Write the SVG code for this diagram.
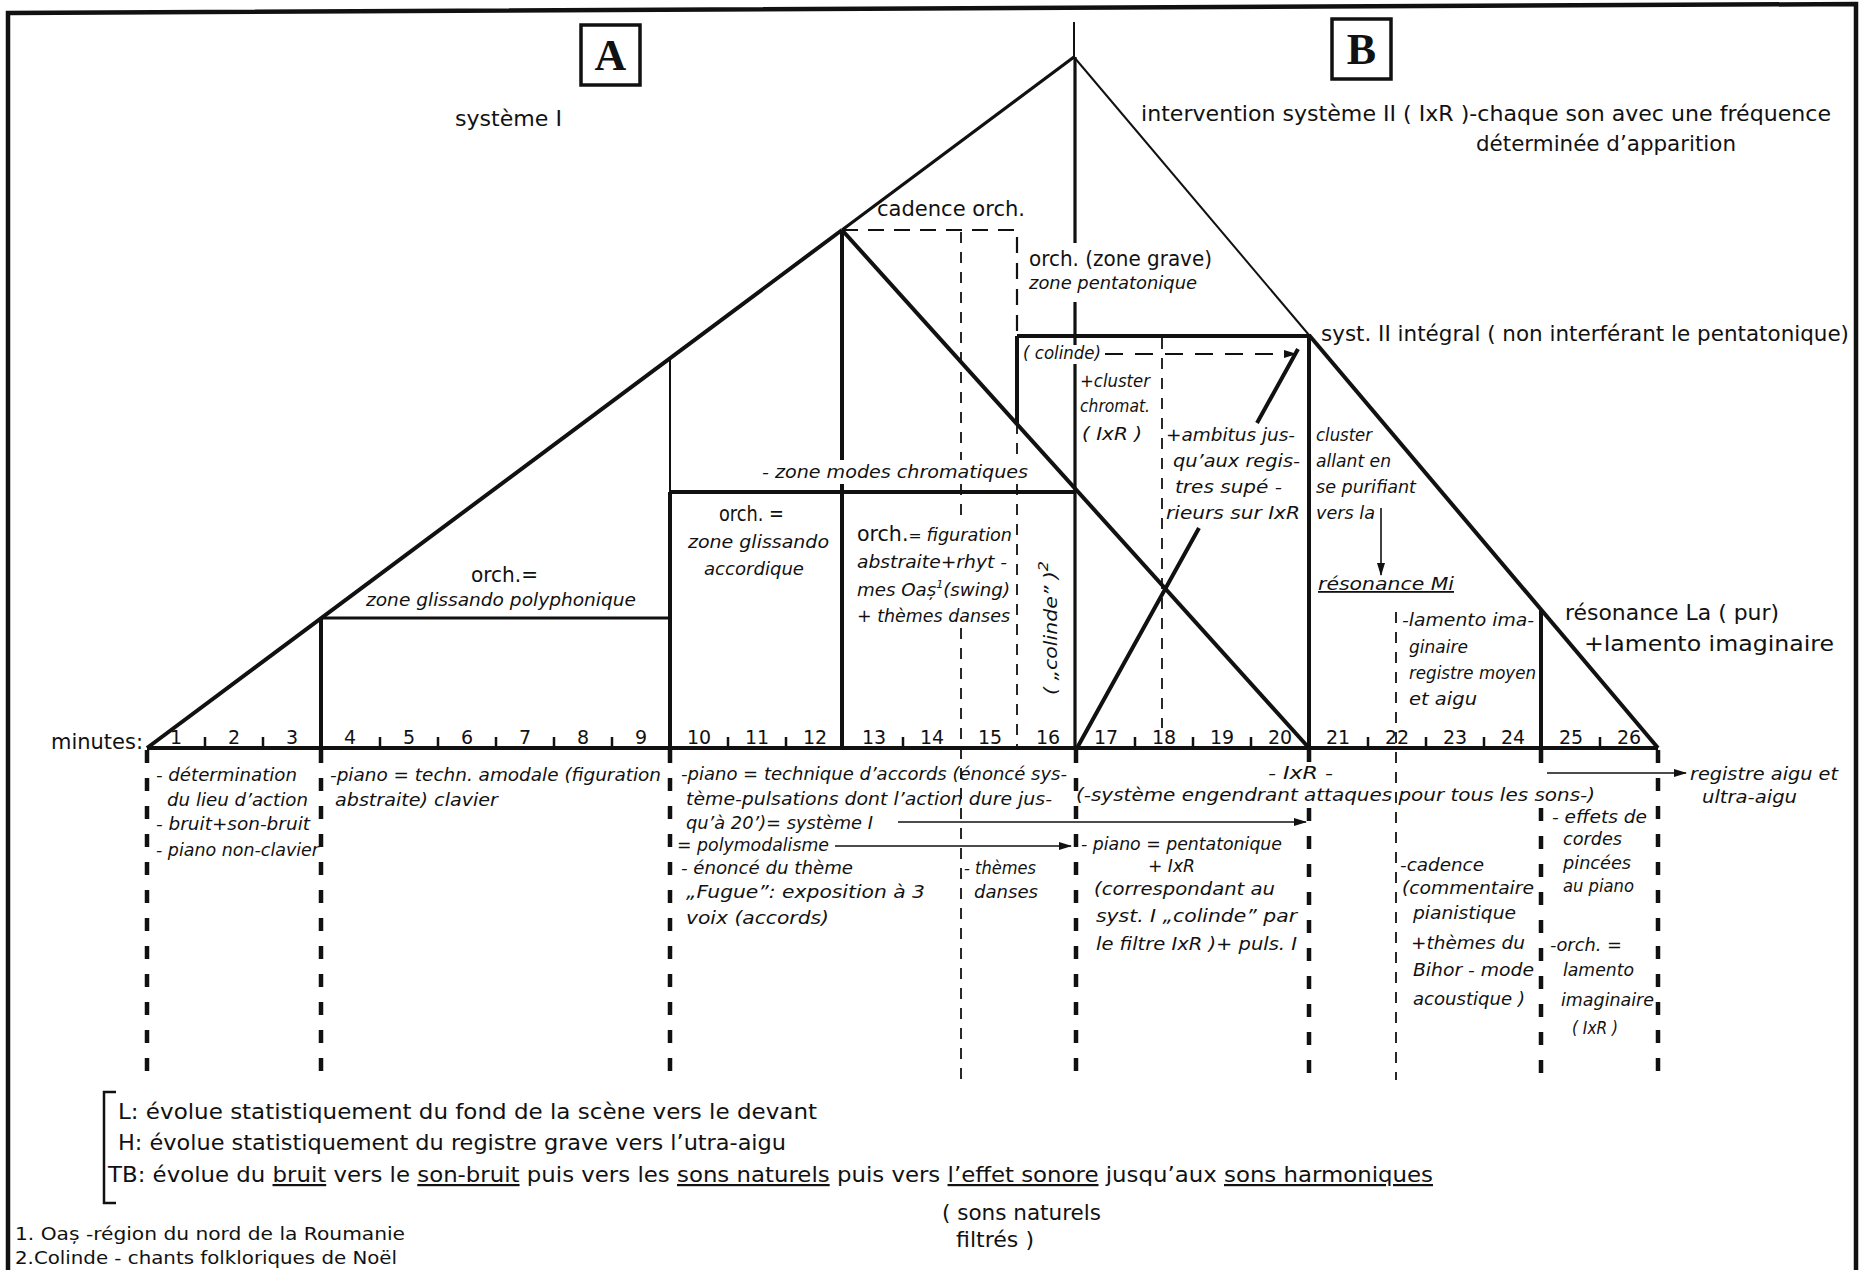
<svg xmlns="http://www.w3.org/2000/svg" width="1862" height="1270" viewBox="0 0 1862 1270">
<defs>
<marker id="ah" markerUnits="userSpaceOnUse" markerWidth="13" markerHeight="8" refX="12" refY="4" orient="auto"><path d="M0,0 L13,4 L0,8 z" fill="#111"/></marker>
</defs>
<style>
.s{stroke:#111;fill:none}
.w4{stroke-width:4}
.w3{stroke-width:3.2}
.w2{stroke-width:2}
.dk{stroke:#111;stroke-width:4.5;stroke-dasharray:13 15;fill:none}
.dn{stroke:#111;stroke-width:1.8;stroke-dasharray:11 9;fill:none}
.db{stroke:#111;stroke-width:2.2;stroke-dasharray:16 10;fill:none}
.ar{stroke:#111;stroke-width:1.6;fill:none;marker-end:url(#ah)}
text{font-family:"DejaVu Sans","Liberation Sans",sans-serif;fill:#111}
.h{font-size:22px}
.u{font-size:21px;font-style:normal}
.i{font-size:18px;font-style:italic}
.n{font-size:19px;text-anchor:middle}
.f{font-size:18px}
.ul{text-decoration:underline}
.box{stroke:#111;stroke-width:3.5;fill:#fff}
.big{font-family:"Liberation Serif",serif;font-weight:bold;font-size:44px;text-anchor:middle}
</style>
<rect width="1862" height="1270" fill="#fff"/>
<g id="frame"><path class="s" stroke-width="4.5" d="M8,1270 V13 L1856,4 V1270"/></g>

<g id="label-A"><rect class="box" x="581" y="25" width="59" height="60"/><text class="big" x="610.5" y="70">A</text></g>
<g id="label-B"><rect class="box" x="1332" y="19" width="59" height="60"/><text class="big" x="1361.5" y="64">B</text></g>

<g id="connectors">
<path class="s w4" d="M147,748 L842,230"/>
<path class="s w3" d="M842,230 L1074,57"/>
<path class="s w2" d="M1074,57 L1309,335"/>
<path class="s w4" d="M1309,335 L1658,748"/>
<path class="s w2" d="M1074,22 V57"/>
<path class="s w3" d="M1075,57 V243 M1075,302 V345 M1075,364 V748"/>
<path class="s w4" d="M842,230 L1309,748"/>
<path class="s w4" d="M842,230 V460 M842,484 V748"/>
<path class="s w4" d="M321,618 V748"/>
<path class="s w3" d="M321,618 H670"/>
<path class="s w2" d="M670,358 V492"/>
<path class="s w4" d="M670,492 V748 M670,492 H1076"/>
<path class="s w4" d="M1017,336 H1309 V748 M1017,336 V423"/>
<path class="s w4" d="M1541,610 V748"/>
<path class="s w4" d="M1077,748 L1199,528 M1257,423 L1298,349"/>
<path class="db" d="M842,230 H1017 V336"/>
<path class="dn" d="M961,232 V460 M961,484 V522 M961,628 V1080"/>
<path class="dn" d="M1017,423 V460 M1017,484 V746"/>
<path class="dn" d="M1162,338 V728"/>
<path class="dn" d="M1396,612 V1080"/>
<path class="dk" d="M147,750 V1082 M321,750 V1082 M670,750 V1082 M1076,750 V1082 M1309,750 V762 M1309,808 V1082 M1541,750 V776 M1541,808 V1082 M1658,750 V1082"/>
<path class="s" stroke-width="2.2" stroke-dasharray="18 12" d="M1105,354 H1296" marker-end="url(#ah)"/>
<path class="ar" d="M1381,508 V575"/>
<path class="ar" d="M898,822 H1306"/>
<path class="ar" d="M835,846 H1071"/>
<path class="ar" d="M1547,773 H1686"/>
</g>

<g id="axis">
<path class="s w4" d="M147,748 H1658"/>
<path class="s" stroke-width="2.5" d="M205,748 V737 M263,748 V737 M380,748 V737 M438,748 V737 M496,748 V737 M554,748 V737 M612,748 V737 M728,748 V737 M786,748 V737 M903,748 V737 M1135,748 V737 M1193,748 V737 M1251,748 V737 M1368,748 V737 M1426,748 V737 M1484,748 V737 M1600,748 V737"/>
<text class="u" x="51" y="749" textLength="92" lengthAdjust="spacingAndGlyphs">minutes:</text>
<text class="n" x="176" y="744">1</text><text class="n" x="234" y="744">2</text><text class="n" x="292" y="744">3</text>
<text class="n" x="350" y="744">4</text><text class="n" x="409" y="744">5</text><text class="n" x="467" y="744">6</text>
<text class="n" x="525" y="744">7</text><text class="n" x="583" y="744">8</text><text class="n" x="641" y="744">9</text>
<text class="n" x="699" y="744">10</text><text class="n" x="757" y="744">11</text><text class="n" x="815" y="744">12</text>
<text class="n" x="874" y="744">13</text><text class="n" x="932" y="744">14</text><text class="n" x="990" y="744">15</text>
<text class="n" x="1048" y="744">16</text><text class="n" x="1106" y="744">17</text><text class="n" x="1164" y="744">18</text>
<text class="n" x="1222" y="744">19</text><text class="n" x="1280" y="744">20</text><text class="n" x="1338" y="744">21</text>
<text class="n" x="1397" y="744">22</text><text class="n" x="1455" y="744">23</text><text class="n" x="1513" y="744">24</text>
<text class="n" x="1571" y="744">25</text><text class="n" x="1629" y="744">26</text>
</g>

<g id="headings">
<text class="h" x="455" y="126" textLength="107" lengthAdjust="spacingAndGlyphs">système I</text>
<text class="h" x="1141" y="121" textLength="690" lengthAdjust="spacingAndGlyphs">intervention système II ( IxR )-chaque son avec une fréquence</text>
<text class="h" x="1476" y="151" textLength="260" lengthAdjust="spacingAndGlyphs">déterminée d’apparition</text>
<text class="u" x="877" y="216" textLength="148" lengthAdjust="spacingAndGlyphs">cadence orch.</text>
<text class="u" x="1029" y="266" textLength="183" lengthAdjust="spacingAndGlyphs">orch. (zone grave)</text>
<text class="i" x="1029" y="289" textLength="168" lengthAdjust="spacingAndGlyphs">zone pentatonique</text>
<text class="h" x="1321" y="341" textLength="528" lengthAdjust="spacingAndGlyphs">syst. II intégral ( non interférant le pentatonique)</text>
</g>

<g id="zone-glissando-poly">
<text class="u" x="471" y="582" textLength="67" lengthAdjust="spacingAndGlyphs">orch.=</text>
<text class="i" x="366" y="606" textLength="270" lengthAdjust="spacingAndGlyphs">zone glissando polyphonique</text>
</g>
<g id="zone-glissando-acc">
<text class="u" x="719" y="521" textLength="65" lengthAdjust="spacingAndGlyphs">orch. =</text>
<text class="i" x="688" y="548" textLength="141" lengthAdjust="spacingAndGlyphs">zone glissando</text>
<text class="i" x="704" y="575" textLength="100" lengthAdjust="spacingAndGlyphs">accordique</text>
</g>
<g id="zone-chromatique">
<text class="i" font-size="20" x="762" y="478" textLength="266" lengthAdjust="spacingAndGlyphs">- zone modes chromatiques</text>
<text x="857" y="541" textLength="155" lengthAdjust="spacingAndGlyphs"><tspan class="u" font-size="20">orch.</tspan><tspan font-size="16">=</tspan> <tspan class="i">figuration</tspan></text>
<text class="i" x="857" y="568" textLength="150" lengthAdjust="spacingAndGlyphs">abstraite+rhyt -</text>
<text class="i" x="857" y="596" textLength="153" lengthAdjust="spacingAndGlyphs">mes Oaș<tspan dy="-8" font-size="11">1</tspan><tspan dy="8">(swing)</tspan></text>
<text class="i" x="857" y="622" textLength="153" lengthAdjust="spacingAndGlyphs">+ thèmes danses</text>
<text class="i" font-size="21" text-anchor="middle" transform="translate(1057,628) rotate(-90)" textLength="134" lengthAdjust="spacingAndGlyphs">( „colinde” )<tspan dy="-9" font-size="14">2</tspan></text>
</g>
<g id="zone-pentatonique">
<text class="i" x="1023" y="359" textLength="78" lengthAdjust="spacingAndGlyphs">( colinde)</text>
<text class="i" x="1080" y="387" textLength="70" lengthAdjust="spacingAndGlyphs">+cluster</text>
<text class="i" x="1080" y="412" textLength="70" lengthAdjust="spacingAndGlyphs">chromat.</text>
<text class="i" x="1082" y="440" textLength="60" lengthAdjust="spacingAndGlyphs">( IxR )</text>
<text class="i" x="1166" y="441" textLength="129" lengthAdjust="spacingAndGlyphs">+ambitus jus-</text>
<text class="i" x="1173" y="467" textLength="127" lengthAdjust="spacingAndGlyphs">qu’aux regis-</text>
<text class="i" x="1175" y="493" textLength="107" lengthAdjust="spacingAndGlyphs">tres supé -</text>
<text class="i" x="1166" y="519" textLength="134" lengthAdjust="spacingAndGlyphs">rieurs sur IxR</text>
</g>
<g id="zone-cluster">
<text class="i" x="1316" y="441" textLength="56" lengthAdjust="spacingAndGlyphs">cluster</text>
<text class="i" x="1316" y="467" textLength="75" lengthAdjust="spacingAndGlyphs">allant en</text>
<text class="i" x="1316" y="493" textLength="100" lengthAdjust="spacingAndGlyphs">se purifiant</text>
<text class="i" x="1316" y="519" textLength="59" lengthAdjust="spacingAndGlyphs">vers la</text>
<text class="i ul" x="1318" y="590" textLength="136" lengthAdjust="spacingAndGlyphs">résonance Mi</text>
</g>
<g id="zone-lamento">
<text class="i" x="1402" y="626" textLength="132" lengthAdjust="spacingAndGlyphs">-lamento ima-</text>
<text class="i" x="1409" y="653" textLength="59" lengthAdjust="spacingAndGlyphs">ginaire</text>
<text class="i" x="1409" y="679" textLength="127" lengthAdjust="spacingAndGlyphs">registre moyen</text>
<text class="i" x="1409" y="705" textLength="68" lengthAdjust="spacingAndGlyphs">et aigu</text>
<text class="h" x="1565" y="620" textLength="214" lengthAdjust="spacingAndGlyphs">résonance La ( pur)</text>
<text class="h" x="1584" y="651" textLength="250" lengthAdjust="spacingAndGlyphs">+lamento imaginaire</text>
</g>

<g id="col-1">
<text class="i" x="156" y="781" textLength="141" lengthAdjust="spacingAndGlyphs">- détermination</text>
<text class="i" x="167" y="806" textLength="141" lengthAdjust="spacingAndGlyphs">du lieu d’action</text>
<text class="i" x="156" y="830" textLength="154" lengthAdjust="spacingAndGlyphs">- bruit+son-bruit</text>
<text class="i" x="156" y="856" textLength="163" lengthAdjust="spacingAndGlyphs">- piano non-clavier</text>
</g>
<g id="col-2">
<text class="i" x="330" y="781" textLength="331" lengthAdjust="spacingAndGlyphs">-piano = techn. amodale (figuration</text>
<text class="i" x="335" y="806" textLength="163" lengthAdjust="spacingAndGlyphs">abstraite) clavier</text>
</g>
<g id="col-3">
<text class="i" x="681" y="780" textLength="386" lengthAdjust="spacingAndGlyphs">-piano = technique d’accords (énoncé sys-</text>
<text class="i" x="686" y="805" textLength="366" lengthAdjust="spacingAndGlyphs">tème-pulsations dont l’action dure jus-</text>
<text class="i" x="686" y="829" textLength="187" lengthAdjust="spacingAndGlyphs">qu’à 20’)= système I</text>
<text class="i" x="677" y="851" textLength="152" lengthAdjust="spacingAndGlyphs">= polymodalisme</text>
<text class="i" x="681" y="874" textLength="172" lengthAdjust="spacingAndGlyphs">- énoncé du thème</text>
<text class="i" x="686" y="898" textLength="239" lengthAdjust="spacingAndGlyphs">„Fugue”: exposition à 3</text>
<text class="i" x="686" y="924" textLength="143" lengthAdjust="spacingAndGlyphs">voix (accords)</text>
</g>
<g id="col-4">
<text class="i" x="964" y="874" textLength="72" lengthAdjust="spacingAndGlyphs">- thèmes</text>
<text class="i" x="974" y="898" textLength="64" lengthAdjust="spacingAndGlyphs">danses</text>
</g>
<g id="col-5">
<text class="i" x="1268" y="779" textLength="65" lengthAdjust="spacingAndGlyphs">- IxR -</text>
<text class="i" x="1076" y="801" textLength="519" lengthAdjust="spacingAndGlyphs">(-système engendrant attaques pour tous les sons-)</text>
<text class="i" x="1081" y="850" textLength="201" lengthAdjust="spacingAndGlyphs">- piano = pentatonique</text>
<text class="i" x="1148" y="872" textLength="47" lengthAdjust="spacingAndGlyphs">+ IxR</text>
<text class="i" x="1094" y="895" textLength="181" lengthAdjust="spacingAndGlyphs">(correspondant au</text>
<text class="i" x="1096" y="922" textLength="201" lengthAdjust="spacingAndGlyphs">syst. I „colinde” par</text>
<text class="i" x="1096" y="950" textLength="201" lengthAdjust="spacingAndGlyphs">le filtre IxR )+ puls. I</text>
</g>
<g id="col-6">
<text class="i" x="1400" y="871" textLength="84" lengthAdjust="spacingAndGlyphs">-cadence</text>
<text class="i" x="1402" y="894" textLength="132" lengthAdjust="spacingAndGlyphs">(commentaire</text>
<text class="i" x="1413" y="919" textLength="103" lengthAdjust="spacingAndGlyphs">pianistique</text>
<text class="i" x="1411" y="949" textLength="114" lengthAdjust="spacingAndGlyphs">+thèmes du</text>
<text class="i" x="1413" y="976" textLength="121" lengthAdjust="spacingAndGlyphs">Bihor - mode</text>
<text class="i" x="1413" y="1005" textLength="112" lengthAdjust="spacingAndGlyphs">acoustique )</text>
</g>
<g id="col-7">
<text class="i" x="1552" y="823" textLength="95" lengthAdjust="spacingAndGlyphs">- effets de</text>
<text class="i" x="1563" y="845" textLength="59" lengthAdjust="spacingAndGlyphs">cordes</text>
<text class="i" x="1563" y="869" textLength="68" lengthAdjust="spacingAndGlyphs">pincées</text>
<text class="i" x="1563" y="892" textLength="71" lengthAdjust="spacingAndGlyphs">au piano</text>
<text class="i" x="1550" y="951" textLength="72" lengthAdjust="spacingAndGlyphs">-orch. =</text>
<text class="i" x="1563" y="976" textLength="71" lengthAdjust="spacingAndGlyphs">lamento</text>
<text class="i" x="1561" y="1006" textLength="93" lengthAdjust="spacingAndGlyphs">imaginaire</text>
<text class="i" x="1572" y="1034" textLength="46" lengthAdjust="spacingAndGlyphs">( IxR )</text>
</g>
<g id="col-8">
<text class="i" x="1690" y="780" textLength="148" lengthAdjust="spacingAndGlyphs">registre aigu et</text>
<text class="i" x="1702" y="803" textLength="95" lengthAdjust="spacingAndGlyphs">ultra-aigu</text>
</g>

<g id="legend">
<path class="s" stroke-width="2.5" d="M116,1092 H104 V1203 H116"/>
<text class="h" x="118" y="1119" textLength="699" lengthAdjust="spacingAndGlyphs">L: évolue statistiquement du fond de la scène vers le devant</text>
<text class="h" x="118" y="1150" textLength="668" lengthAdjust="spacingAndGlyphs">H: évolue statistiquement du registre grave vers l’utra-aigu</text>
<text class="h" x="108" y="1182" textLength="1325" lengthAdjust="spacingAndGlyphs">TB: évolue du <tspan class="ul">bruit</tspan> vers le <tspan class="ul">son-bruit</tspan> puis vers les <tspan class="ul">sons naturels</tspan> puis vers <tspan class="ul">l’effet sonore</tspan> jusqu’aux <tspan class="ul">sons harmoniques</tspan></text>
<text class="u" x="942" y="1220" textLength="159" lengthAdjust="spacingAndGlyphs">( sons naturels</text>
<text class="u" x="956" y="1247" textLength="78" lengthAdjust="spacingAndGlyphs">filtrés )</text>
</g>
<g id="footnotes">
<text class="f" x="15" y="1240" textLength="390" lengthAdjust="spacingAndGlyphs">1. Oaș -région du nord de la Roumanie</text>
<text class="f" x="15" y="1264" textLength="382" lengthAdjust="spacingAndGlyphs">2.Colinde - chants folkloriques de Noël</text>
</g>
</svg>
